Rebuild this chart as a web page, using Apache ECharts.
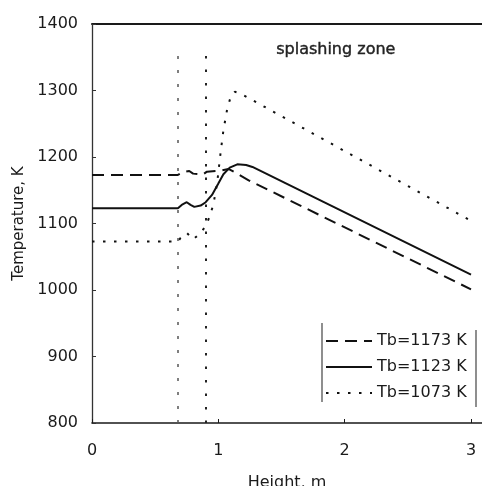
<!DOCTYPE html>
<html>
<head>
<meta charset="utf-8">
<script src="https://cdn.jsdelivr.net/npm/echarts@6/dist/echarts.min.js"></script>
<style>
html,body{margin:0;padding:0;background:#fff;}
#chart{width:482px;height:486px;}
</style>
</head>
<body>
<div id="chart"></div>
<script>
// ---- data ----
var seriesNames = ['Tb=1173 K', 'Tb=1123 K', 'Tb=1073 K'];

var height1173 = [0, 0.68, 0.72, 0.77, 0.80, 0.88, 0.91, 0.98, 1.03, 1.08, 1.14, 1.24, 3.0];
var temp1173   = [1173, 1173, 1177, 1179, 1175, 1174, 1178, 1179, 1180, 1182, 1176, 1165, 1001];

var height1123 = [0, 0.68, 0.71, 0.75, 0.78, 0.81, 0.86, 0.90, 0.95, 1.00, 1.04, 1.09, 1.15, 1.22, 1.27, 3.0];
var temp1123   = [1123, 1123, 1128, 1132, 1128, 1125, 1127, 1132, 1143, 1160, 1174, 1184, 1189, 1188, 1185, 1023];

var height1073 = [0, 0.68, 0.70, 0.75, 0.80, 0.85, 0.90, 0.93, 0.96, 0.99, 1.02, 1.04, 1.07, 1.10, 1.13, 1.17, 3.0];
var temp1073   = [1073, 1073, 1078, 1086, 1076, 1084, 1096, 1110, 1128, 1160, 1210, 1240, 1272, 1292, 1298, 1296, 1104];

var zoneBounds = [0.68, 0.90];   // splashing zone boundaries, m
var zoneTop = 1368;              // top of the boundary lines, K
var zoneLabel = 'splashing zone';

var xTicks = [0, 1, 2, 3];
var yMin = 800, yMax = 1400, yStep = 100;
var xMin = 0, xMax = 3.087;

function pairs(xs, ys) { return xs.map(function (x, i) { return [x, ys[i]]; }); }

var font = 'DejaVu Sans';
var ink = '#1a1a1a';

var chart = echarts.init(document.getElementById('chart'), null, {renderer: 'canvas'});

var option = {
  backgroundColor: '#fff',
  animation: false,
  grid: {left: 92, top: 24, right: 0, bottom: 63, containLabel: false, outerBoundsMode: 'none'},
  xAxis: [{
    type: 'value', min: xMin, max: xMax, interval: 1,
    position: 'bottom',
    name: 'Height, m', nameLocation: 'middle', nameGap: 52,
    nameTextStyle: {fontFamily: font, fontSize: 16, color: ink},
    axisLine: {show: true, lineStyle: {color: ink, width: 1.6}},
    axisTick: {show: true, inside: true, length: 4, customValues: xTicks, lineStyle: {color: ink, width: 1}},
    axisLabel: {customValues: xTicks, margin: 20, fontFamily: font, fontSize: 16, color: ink,
      formatter: function (v) { return String(v); }},
    splitLine: {show: false}
  }, {
    type: 'value', min: xMin, max: xMax, position: 'top',
    axisLine: {show: true, lineStyle: {color: ink, width: 2}},
    axisTick: {show: false}, axisLabel: {show: false}, splitLine: {show: false}
  }],
  yAxis: {
    type: 'value', min: yMin, max: yMax, interval: yStep,
    name: 'Temperature, K', nameLocation: 'middle', nameGap: 60,
    nameTextStyle: {fontFamily: font, fontSize: 15, color: ink},
    axisLine: {show: true, lineStyle: {color: '#333', width: 1.3}},
    axisTick: {show: true, inside: true, length: 4, lineStyle: {color: '#333', width: 1}},
    axisLabel: {margin: 14, fontFamily: font, fontSize: 16, color: ink,
      formatter: function (v) { return String(v); }},
    splitLine: {show: false}
  },
  legend: {
    data: seriesNames,
    orient: 'vertical',
    left: 325, top: 333,
    padding: 0,
    itemWidth: 46, itemHeight: 16, itemGap: 10,
    itemStyle: {opacity: 0},
    textStyle: {fontFamily: font, fontSize: 16, color: ink, padding: [0, 0, 0, 0]}
  },
  graphic: [
    {type: 'line', shape: {x1: 322, y1: 323, x2: 322, y2: 402}, style: {stroke: '#444', lineWidth: 1.2}},
    {type: 'line', shape: {x1: 476, y1: 330, x2: 476, y2: 407}, style: {stroke: '#444', lineWidth: 1.2}},
    {type: 'text', left: 276, top: 42, style: {text: zoneLabel, fontFamily: font, fontSize: 16, fill: '#222', stroke: '#222', lineWidth: 0.4}}
  ],
  series: [
    {
      name: seriesNames[0], type: 'line', data: pairs(height1173, temp1173),
      symbol: 'none', showSymbol: false,
      lineStyle: {color: '#111', width: 2, type: [12, 7]}
    },
    {
      name: seriesNames[1], type: 'line', data: pairs(height1123, temp1123),
      symbol: 'none', showSymbol: false,
      lineStyle: {color: '#111', width: 2, type: 'solid'}
    },
    {
      name: seriesNames[2], type: 'line', data: pairs(height1073, temp1073),
      symbol: 'none', showSymbol: false,
      lineStyle: {color: '#111', width: 2, type: [2.5, 8.5]}
    },
    {
      name: 'zone', type: 'line', data: [], symbol: 'none',
      markLine: {
        silent: true, symbol: 'none', label: {show: false},
        data: [
          [{coord: [zoneBounds[0], yMin], lineStyle: {color: '#555', width: 1.5, type: [3, 11]}}, {coord: [zoneBounds[0], zoneTop]}],
          [{coord: [zoneBounds[1], yMin], lineStyle: {color: '#222', width: 2, type: [2.5, 11]}}, {coord: [zoneBounds[1], zoneTop]}]
        ]
      }
    }
  ]
};
chart.setOption(option);
</script>
</body>
</html>
